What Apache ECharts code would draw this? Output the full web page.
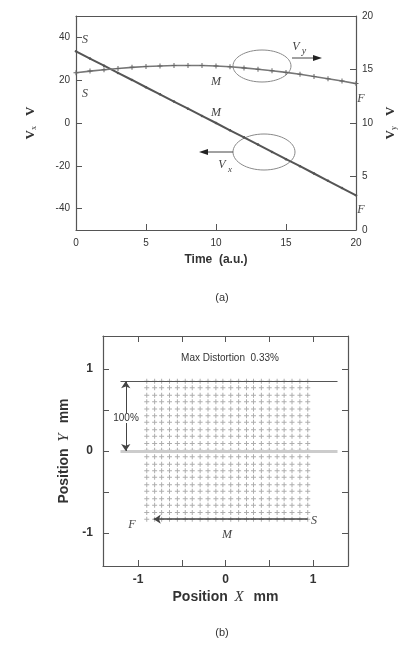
<!DOCTYPE html>
<html lang="en">
<head>
<meta charset="UTF-8">
<title>Velocity and distortion</title>
<script src="https://cdn.jsdelivr.net/npm/echarts@6/dist/echarts.min.js"></script>
<style>
  html, body { margin: 0; background: #fff; }
  #chart { width: 406px; height: 645px; }
</style>
</head>
<body>
<div id="chart"></div>
<script>
  // (a) velocity vs time
  const time = [0, 1, 2, 3, 4, 5, 6, 7, 8, 9, 10, 11, 12, 13, 14, 15, 16, 17, 18, 19, 20];
  const vx = [33.5, 30.1, 26.8, 23.4, 20.1, 16.7, 13.4, 10.0, 6.7, 3.3, 0.0,
              -3.4, -6.7, -10.1, -13.5, -16.9, -20.2, -23.6, -27.0, -30.4, -33.8];
  const vy = [14.7, 14.85, 14.98, 15.1, 15.2, 15.28, 15.33, 15.37, 15.38, 15.37, 15.33,
              15.25, 15.15, 15.03, 14.89, 14.73, 14.55, 14.35, 14.14, 13.92, 13.68];
  const vxTicks = [-40, -20, 0, 20, 40];

  // (b) scan grid
  const gridCols = [-0.90, -0.81, -0.73, -0.64, -0.55, -0.46, -0.38, -0.29, -0.20, -0.11, -0.03,
                    0.06, 0.15, 0.24, 0.32, 0.41, 0.50, 0.59, 0.67, 0.76, 0.85, 0.94];
  const gridRows = [0.85, 0.77, 0.68, 0.60, 0.51, 0.43, 0.35, 0.26, 0.18, 0.09, 0.01,
                    -0.07, -0.16, -0.24, -0.32, -0.41, -0.49, -0.58, -0.66, -0.75, -0.83];
  const posTicks = [-1, -0.5, 0, 0.5, 1];
  const posLabels = [-1, 0, 1];

  const plus = 'path://M4,0H6V4H10V6H6V10H4V6H0V4H4Z';
  const scanPts = [];
  gridRows.forEach(y => gridCols.forEach(x => scanPts.push([x, y])));

  const ink = '#333';
  const lab = { color: ink, fontFamily: 'Liberation Sans', fontSize: 10 };
  const labB = { color: ink, fontFamily: 'Liberation Sans', fontSize: 12, fontWeight: 'bold' };
  const axLine = { show: true, onZero: false, lineStyle: { color: '#555', width: 1.2 } };
  const tickIn = { inside: true, length: 6, lineStyle: { color: '#555' } };
  const serifI = { fontFamily: 'Liberation Serif', fontStyle: 'italic', fontSize: 12, fill: '#444' };

  function txt(x, y, s, extra) {
    return { type: 'text', x: x, y: y, style: Object.assign({ text: s, align: 'center', verticalAlign: 'middle' }, serifI, extra || {}) };
  }

  let myChart = echarts.init(document.getElementById('chart'));
  let option = {
    animation: false,
    grid: [
      { left: 76, top: 16, width: 284, height: 214 },
      { left: 103, top: 336, width: 245, height: 230 }
    ],
    xAxis: [
      {
        gridIndex: 0, type: 'value', min: 0, max: 20, interval: 5,
        axisLine: axLine, axisTick: tickIn, splitLine: { show: false },
        axisLabel: Object.assign({ margin: 8 }, lab),
        name: 'Time  (a.u.)', nameLocation: 'middle', nameGap: 24,
        nameTextStyle: { color: ink, fontFamily: 'Liberation Sans', fontSize: 12, fontWeight: 'bold' }
      },
      {
        gridIndex: 0, type: 'value', min: 0, max: 20, position: 'top',
        axisLine: axLine, axisTick: { show: false }, axisLabel: { show: false }, splitLine: { show: false }
      },
      {
        gridIndex: 1, type: 'value', min: -1.4, max: 1.4,
        axisLine: axLine, splitLine: { show: false },
        axisTick: Object.assign({ customValues: posTicks }, tickIn),
        axisLabel: Object.assign({ customValues: posLabels, margin: 8 }, labB),
        name: '{b|Position}  {i|X}   {b|mm}', nameLocation: 'middle', nameGap: 24,
        nameTextStyle: { rich: {
          b: { color: ink, fontFamily: 'Liberation Sans', fontSize: 14, fontWeight: 'bold' },
          i: { color: ink, fontFamily: 'Liberation Serif', fontSize: 15, fontStyle: 'italic' }
        } }
      },
      {
        gridIndex: 1, type: 'value', min: -1.4, max: 1.4, position: 'top',
        axisLine: axLine, splitLine: { show: false }, axisLabel: { show: false },
        axisTick: Object.assign({ customValues: posTicks }, tickIn)
      }
    ],
    yAxis: [
      {
        gridIndex: 0, type: 'value', min: -50, max: 50,
        axisLine: axLine, splitLine: { show: false },
        axisTick: Object.assign({ customValues: vxTicks }, tickIn),
        axisLabel: Object.assign({ customValues: vxTicks, margin: 6 }, lab),
        name: '{v|V}{s|x}   {v|V}', nameLocation: 'middle', nameGap: 38, nameRotate: 90,
        nameTextStyle: { rich: {
          v: { color: ink, fontFamily: 'Liberation Serif', fontSize: 13, fontWeight: 'bold' },
          s: { color: ink, fontFamily: 'Liberation Serif', fontSize: 8, verticalAlign: 'bottom', padding: [6, 0, 0, 0] }
        } }
      },
      {
        gridIndex: 0, type: 'value', min: 0, max: 20, interval: 5, position: 'right',
        axisLine: axLine, splitLine: { show: false }, axisTick: tickIn,
        axisLabel: Object.assign({ margin: 6 }, lab),
        name: '{v|V}{s|y}   {v|V}', nameLocation: 'middle', nameGap: 28, nameRotate: 90,
        nameTextStyle: { rich: {
          v: { color: ink, fontFamily: 'Liberation Serif', fontSize: 13, fontWeight: 'bold' },
          s: { color: ink, fontFamily: 'Liberation Serif', fontSize: 8, verticalAlign: 'bottom', padding: [6, 0, 0, 0] }
        } }
      },
      {
        gridIndex: 1, type: 'value', min: -1.4, max: 1.4,
        axisLine: axLine, splitLine: { show: false },
        axisTick: Object.assign({ customValues: posTicks }, tickIn),
        axisLabel: Object.assign({ customValues: posLabels, margin: 10 }, labB),
        name: '{b|Position}  {i|Y}   {b|mm}', nameLocation: 'middle', nameGap: 30, nameRotate: 90,
        nameTextStyle: { rich: {
          b: { color: ink, fontFamily: 'Liberation Sans', fontSize: 14, fontWeight: 'bold' },
          i: { color: ink, fontFamily: 'Liberation Serif', fontSize: 15, fontStyle: 'italic' }
        } }
      },
      {
        gridIndex: 1, type: 'value', min: -1.4, max: 1.4, position: 'right',
        axisLine: axLine, splitLine: { show: false }, axisLabel: { show: false },
        axisTick: Object.assign({ customValues: posTicks }, tickIn)
      }
    ],
    series: [
      {
        name: 'Vx', type: 'line', xAxisIndex: 0, yAxisIndex: 0,
        data: time.map((t, i) => [t, vx[i]]),
        symbol: 'circle', symbolSize: 2.5,
        lineStyle: { color: '#555', width: 2 }, itemStyle: { color: '#555' }
      },
      {
        name: 'Vy', type: 'line', xAxisIndex: 0, yAxisIndex: 1,
        data: time.map((t, i) => [t, vy[i]]),
        symbol: plus, symbolSize: 5,
        lineStyle: { color: '#777', width: 1.6 }, itemStyle: { color: '#666' }
      },
      {
        name: 'scan', type: 'scatter', xAxisIndex: 2, yAxisIndex: 2,
        data: scanPts, symbol: plus, symbolSize: 5,
        itemStyle: { color: '#9a9a9a' },
        markLine: {
          silent: true, symbol: ['none', 'none'], label: { show: false },
          data: [
            [{ coord: [-1.2, 0.85], lineStyle: { color: '#555', width: 1.2, type: 'solid' } }, { coord: [1.28, 0.85] }],
            [{ coord: [-1.2, 0], lineStyle: { color: '#ccc', width: 3, type: 'solid' } }, { coord: [1.28, 0] }],
            [{ coord: [-1.14, 0.85], symbol: 'arrow', lineStyle: { color: '#444', width: 1, type: 'solid' } },
             { coord: [-1.14, 0], symbol: 'arrow' }],
            [{ coord: [0.94, -0.83], symbol: 'none', lineStyle: { color: '#444', width: 1.5, type: 'solid' } },
             { coord: [-0.82, -0.83], symbol: 'arrow' }]
          ],
          symbolSize: 7
        }
      }
    ],
    graphic: [
      // (a) annotations
      txt(85, 40, 'S'), txt(85, 94, 'S'),
      txt(216, 82, 'M'), txt(216, 113, 'M'),
      txt(361, 99, 'F'), txt(361, 210, 'F'),
      { type: 'ellipse', shape: { cx: 262, cy: 66, rx: 29, ry: 16 }, style: { fill: 'none', stroke: '#888', lineWidth: 1 } },
      { type: 'ellipse', shape: { cx: 264, cy: 152, rx: 31, ry: 18 }, style: { fill: 'none', stroke: '#888', lineWidth: 1 } },
      { type: 'line', shape: { x1: 292, y1: 58, x2: 315, y2: 58 }, style: { stroke: '#444', lineWidth: 1 } },
      { type: 'polygon', shape: { points: [[322, 58], [313, 55], [313, 61]] }, style: { fill: '#222' } },
      { type: 'line', shape: { x1: 233, y1: 152, x2: 207, y2: 152 }, style: { stroke: '#444', lineWidth: 1 } },
      { type: 'polygon', shape: { points: [[199, 152], [208, 149], [208, 155]] }, style: { fill: '#222' } },
      txt(296, 47, 'V'), txt(304, 51, 'y', { fontSize: 10 }),
      txt(222, 165, 'V'), txt(230, 170, 'x', { fontSize: 9 }),
      { type: 'text', x: 222, y: 298, style: { text: '(a)', align: 'center', verticalAlign: 'middle', fontFamily: 'Liberation Sans', fontSize: 11, fill: ink } },
      // (b) annotations
      { type: 'text', x: 230, y: 358, style: { text: 'Max Distortion  0.33%', align: 'center', verticalAlign: 'middle', fontFamily: 'Liberation Sans', fontSize: 10, fill: ink } },
      { type: 'text', x: 126, y: 418, z: 100, style: { text: '100%', align: 'center', verticalAlign: 'middle', fontFamily: 'Liberation Sans', fontSize: 10, fill: ink, backgroundColor: '#fff' } },
      txt(132, 525, 'F'), txt(314, 521, 'S'), txt(227, 535, 'M'),
      { type: 'text', x: 222, y: 633, style: { text: '(b)', align: 'center', verticalAlign: 'middle', fontFamily: 'Liberation Sans', fontSize: 11, fill: ink } }
    ]
  };
  myChart.setOption(option);
</script>
</body>
</html>
